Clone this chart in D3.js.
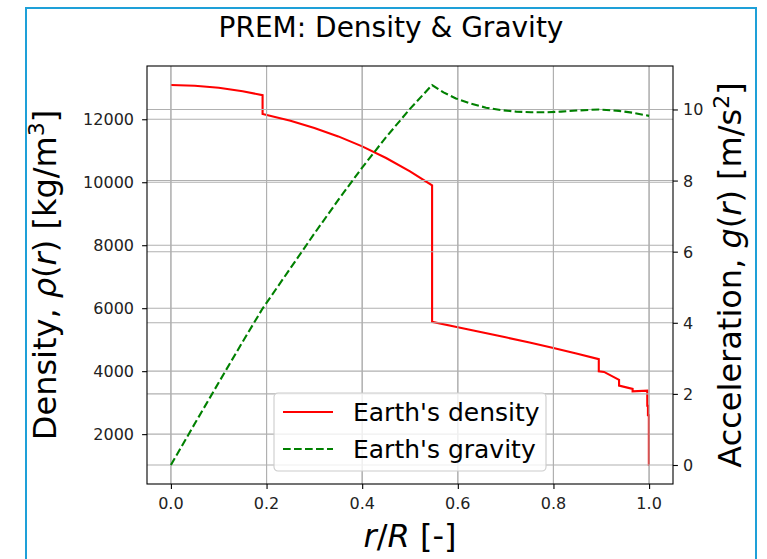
<!DOCTYPE html>
<html lang="en">
<head>
<meta charset="UTF-8">
<title>PREM: Density & Gravity</title>
<script src="https://cdn.jsdelivr.net/npm/d3@7"></script>
<style>
    body{ margin:0; background:white; }
    text{ font-family:"DejaVu Sans", sans-serif; fill:black; }
    .grid line{ stroke:#b0b0b0; stroke-width:1.1; }
    .tick line{ stroke:black; stroke-width:1.1; }
    .lbl{ font-size:16px; fill:#222; }
</style>
</head>
<body>
<script>
// radius r/R and PREM density [kg/m3]
var rhoR = [0, 0.05, 0.1, 0.15, 0.1917, 0.1917, 0.25, 0.3, 0.35, 0.4, 0.45, 0.5, 0.5462,
            0.5462, 0.6, 0.65, 0.7, 0.75, 0.8, 0.85, 0.8948, 0.8948, 0.9058, 0.9372, 0.9372,
            0.9655, 0.9655, 0.9962, 0.9962, 0.9976, 0.9976, 0.9995, 0.9995, 1.0];
var rho  = [13088, 13066, 13000, 12890, 12764, 12166, 11951, 11725, 11456, 11139, 10771, 10348, 9904,
            5566, 5396, 5237, 5075, 4909, 4736, 4554, 4381, 3992, 3976, 3724, 3543,
            3436, 3360, 3381, 2900, 2900, 2600, 2600, 1020, 1020];

// radius r/R and gravity [m/s2]
var gR = [0, 0.05, 0.1, 0.15, 0.1917, 0.25, 0.3, 0.35, 0.4, 0.45, 0.5, 0.5462,
          0.570, 0.596, 0.628, 0.659, 0.691, 0.722, 0.753, 0.785, 0.816, 0.848, 0.879,
          0.895, 0.937, 0.965, 1.0];
var g  = [0, 1.165, 2.32, 3.465, 4.40, 5.535, 6.51, 7.456, 8.365, 9.222, 10.017, 10.688,
          10.48, 10.31, 10.16, 10.05, 9.98, 9.94, 9.92, 9.92, 9.94, 9.97, 9.99,
          10.00, 9.96, 9.91, 9.82];

var xTicks = [0, 0.2, 0.4, 0.6, 0.8, 1.0];
var rhoTicks = [2000, 4000, 6000, 8000, 10000, 12000];
var gTicks = [0, 2, 4, 6, 8, 10];
var legendNames = ["Earth's density", "Earth's gravity"];

var pLeft = 147, pRight = 673, pTop = 66, pBottom = 484;

function pad(e){ var d = (e[1]-e[0])*0.05; return [e[0]-d, e[1]+d]; }

var x = d3.scaleLinear().domain(pad(d3.extent(rhoR))).range([pLeft, pRight]);
var yRho = d3.scaleLinear().domain(pad(d3.extent(rho))).range([pBottom, pTop]);
var yG = d3.scaleLinear().domain(pad(d3.extent(g))).range([pBottom, pTop]);

var svg = d3.select("body").append("svg").attr("width", 767).attr("height", 559);

// notebook cell frame
svg.append("rect").attr("x", 26).attr("y", 8).attr("width", 730).attr("height", 570)
   .attr("fill", "none").attr("stroke", "#1ea0d8").attr("stroke-width", 2);

// grids
var grid = svg.append("g").attr("class", "grid");
grid.selectAll(".gx").data(xTicks).enter().append("line")
    .attr("x1", function(d){return x(d);}).attr("x2", function(d){return x(d);})
    .attr("y1", pTop).attr("y2", pBottom);
grid.selectAll(".gy").data(rhoTicks).enter().append("line")
    .attr("x1", pLeft).attr("x2", pRight)
    .attr("y1", function(d){return yRho(d);}).attr("y2", function(d){return yRho(d);});

var line = d3.line();
svg.append("path")
   .attr("d", line(rhoR.map(function(d, i){ return [x(d), yRho(rho[i])]; })))
   .attr("fill", "none").attr("stroke", "red").attr("stroke-width", 2.1);

var grid2 = svg.append("g").attr("class", "grid");
grid2.selectAll(".gy2").data(gTicks).enter().append("line")
    .attr("x1", pLeft).attr("x2", pRight)
    .attr("y1", function(d){return yG(d);}).attr("y2", function(d){return yG(d);});
grid2.selectAll(".gx2").data(xTicks).enter().append("line")
    .attr("x1", function(d){return x(d);}).attr("x2", function(d){return x(d);})
    .attr("y1", pTop).attr("y2", pBottom);

svg.append("path")
   .attr("d", line(gR.map(function(d, i){ return [x(d), yG(g[i])]; })))
   .attr("fill", "none").attr("stroke", "green").attr("stroke-width", 2.1)
   .attr("stroke-dasharray", "7.7,3.3");

// axes: d3 draws the tick marks, labels are placed by hand with the same scales
var ax = svg.append("g").attr("transform", "translate(0," + pBottom + ")")
    .call(d3.axisBottom(x).tickValues(xTicks).tickFormat("").tickSize(4.9));
var ayL = svg.append("g").attr("transform", "translate(" + pLeft + ",0)")
    .call(d3.axisLeft(yRho).tickValues(rhoTicks).tickFormat("").tickSize(4.9));
var ayR = svg.append("g").attr("transform", "translate(" + pRight + ",0)")
    .call(d3.axisRight(yG).tickValues(gTicks).tickFormat("").tickSize(4.9));
[ax, ayL, ayR].forEach(function(a){ a.select(".domain").remove(); });

svg.append("g").selectAll("text").data(xTicks).enter().append("text").attr("class", "lbl")
   .attr("x", function(d){return x(d);}).attr("y", pBottom + 25)
   .attr("text-anchor", "middle").text(d3.format(".1f"));
svg.append("g").selectAll("text").data(rhoTicks).enter().append("text").attr("class", "lbl")
   .attr("x", pLeft - 13).attr("y", function(d){return yRho(d) + 6;})
   .attr("text-anchor", "end").text(function(d){ return d; });
svg.append("g").selectAll("text").data(gTicks).enter().append("text").attr("class", "lbl")
   .attr("x", pRight + 10).attr("y", function(d){return yG(d) + 6;})
   .attr("text-anchor", "start").text(function(d){ return d; });

svg.append("rect").attr("x", pLeft).attr("y", pTop)
   .attr("width", pRight-pLeft).attr("height", pBottom-pTop)
   .attr("fill", "none").attr("stroke", "black").attr("stroke-width", 1.1);

// legend
var leg = svg.append("g").attr("transform", "translate(274,393)");
leg.append("rect").attr("width", 272).attr("height", 78).attr("rx", 4)
   .attr("fill", "white").attr("fill-opacity", 0.8)
   .attr("stroke", "#cccccc").attr("stroke-width", 1.1);
var items = leg.selectAll(".item").data(legendNames).enter().append("g")
   .attr("transform", function(d, i){ return "translate(0," + (19 + i*37) + ")"; });
items.append("line").attr("x1", 9).attr("x2", 59).attr("y1", 0).attr("y2", 0)
   .attr("stroke", function(d, i){ return i ? "green" : "red"; })
   .attr("stroke-width", 2.1)
   .attr("stroke-dasharray", function(d, i){ return i ? "7.7,3.3" : null; });
items.append("text").attr("x", 79).attr("y", 9).style("font-size", "25px")
   .text(function(d){ return d; });

// titles
svg.append("text").attr("x", 391).attr("y", 37).attr("text-anchor", "middle")
   .style("font-size", "28px").text("PREM: Density & Gravity");

var xl = svg.append("text").attr("x", x(0.5)).attr("y", 547).attr("text-anchor", "middle")
   .style("font-size", "32px");
xl.append("tspan").style("font-style", "italic").text("r");
xl.append("tspan").text("/");
xl.append("tspan").style("font-style", "italic").text("R");
xl.append("tspan").text(" [-]");

var yl = svg.append("text").attr("transform", "translate(56," + ((pTop+pBottom)/2) + ") rotate(-90)")
   .attr("text-anchor", "middle").style("font-size", "32px");
yl.append("tspan").text("Density, ");
yl.append("tspan").style("font-style", "italic").text("ρ");
yl.append("tspan").text("(");
yl.append("tspan").style("font-style", "italic").text("r");
yl.append("tspan").text(") [kg/m");
yl.append("tspan").attr("dy", -12).style("font-size", "22px").text("3");
yl.append("tspan").attr("dy", 12).text("]");

var yr = svg.append("text").attr("transform", "translate(741," + ((pTop+pBottom)/2) + ") rotate(-90)")
   .attr("text-anchor", "middle").style("font-size", "32px");
yr.append("tspan").text("Acceleration, ");
yr.append("tspan").style("font-style", "italic").text("g");
yr.append("tspan").text("(");
yr.append("tspan").style("font-style", "italic").text("r");
yr.append("tspan").text(") [m/s");
yr.append("tspan").attr("dy", -12).style("font-size", "22px").text("2");
yr.append("tspan").attr("dy", 12).text("]");
</script>
</body>
</html>
